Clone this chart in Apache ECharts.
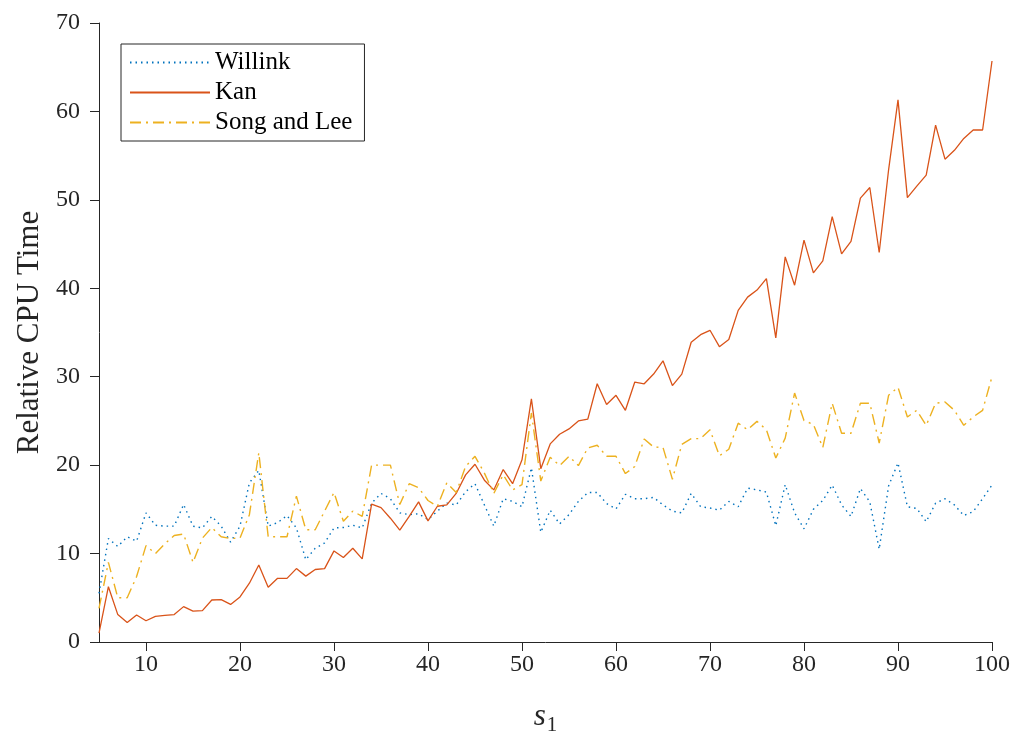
<!DOCTYPE html>
<html>
<head>
<meta charset="utf-8">
<script src="https://cdn.jsdelivr.net/npm/echarts@6/dist/echarts.min.js"></script>
<style>
html,body{margin:0;padding:0;background:#fff;}
#chart{width:1017px;height:733px;}
</style>
</head>
<body>
<div id="chart"></div>
<script>
const s1 = [];
for (let s = 5; s <= 100; s++) s1.push(s);

const xTicks = [10, 20, 30, 40, 50, 60, 70, 80, 90, 100];

const willink = [
  5.5, 11.7, 10.8, 11.9, 11.4, 14.6, 13.2, 13.1, 13.1, 15.55,
  13.1, 12.9, 14.2, 13.1, 11.3, 13.1, 18.0, 19.4, 13.1, 13.5,
  14.3, 12.9, 9.3, 10.6, 11.2, 12.9, 12.95, 13.2, 12.9, 15.7,
  16.8, 16.2, 14.6, 14.4, 14.5, 13.85, 14.8, 15.7, 15.5, 17.0,
  17.9, 15.5, 13.1, 16.2, 15.9, 15.3, 19.7, 12.4, 14.9, 13.35,
  14.4, 15.9, 16.9, 16.9, 15.65, 15.05, 16.7, 16.2, 16.2, 16.35,
  15.5, 14.8, 14.6, 16.8, 15.3, 15.15, 14.9, 15.9, 15.3, 17.4,
  17.2, 16.95, 13.15, 17.8, 14.6, 12.8, 15.0, 16.0, 17.75, 15.5,
  14.2, 17.35, 15.85, 10.5, 17.65, 20.25, 15.3, 15.1, 13.6, 15.7,
  16.2, 15.5, 14.3, 14.75, 16.2, 17.75
];

const kan = [
  1.0, 6.25, 3.1, 2.2, 3.05, 2.4, 2.9, 3.0, 3.1, 4.0,
  3.5, 3.55, 4.75, 4.8, 4.25, 5.1, 6.65, 8.7, 6.2, 7.2,
  7.2, 8.3, 7.45, 8.2, 8.3, 10.3, 9.55, 10.6, 9.4, 15.6,
  15.2, 14.0, 12.65, 14.2, 15.85, 13.7, 15.35, 15.5, 16.8, 18.9,
  20.1, 18.3, 17.2, 19.5, 17.9, 20.6, 27.5, 19.6, 22.4, 23.5,
  24.1, 25.0, 25.2, 29.2, 26.85, 27.9, 26.2, 29.4, 29.2, 30.3,
  31.8, 29.0, 30.3, 33.9, 34.75, 35.25, 33.4, 34.2, 37.5, 39.0,
  39.8, 41.1, 34.4, 43.55, 40.35, 45.45, 41.75, 43.1, 48.1, 43.9,
  45.3, 50.2, 51.4, 44.05, 53.4, 61.3, 50.25, 51.55, 52.8, 58.45,
  54.6, 55.6, 56.95, 57.9, 57.9, 65.7
];

const songLee = [
  3.8, 9.0, 5.0, 5.0, 7.4, 10.9, 10.0, 11.1, 12.05, 12.2,
  9.0, 11.75, 12.95, 11.9, 11.7, 11.75, 14.4, 21.4, 11.9, 11.9,
  11.9, 16.5, 12.7, 12.7, 14.8, 16.9, 13.65, 14.8, 14.2, 20.0,
  20.0, 20.0, 15.55, 17.9, 17.45, 16.0, 15.35, 18.0, 16.9, 19.85,
  21.0, 19.1, 16.8, 18.9, 17.2, 17.8, 25.9, 18.2, 20.9, 19.95,
  21.0, 19.95, 21.95, 22.25, 21.0, 21.0, 19.05, 19.85, 22.95, 22.05,
  22.0, 18.4, 22.35, 23.0, 23.0, 24.0, 21.05, 21.8, 24.75, 24.0,
  24.95, 24.0, 20.8, 23.05, 28.15, 25.05, 24.6, 22.0, 27.0, 23.6,
  23.6, 27.0, 27.0, 22.5, 27.9, 28.8, 25.45, 26.2, 24.5, 27.0,
  27.15, 26.2, 24.5, 25.45, 26.2, 30.0
];

const seriesNames = ['Willink', 'Kan', 'Song and Lee'];

const FONT = '"Liberation Serif", "DejaVu Serif", serif';
const AXC = '#262626';

function pairs(arr) { return s1.map((x, i) => [x, arr[i]]); }

const chart = echarts.init(document.getElementById('chart'), null, {renderer: 'canvas'});
chart.setOption({
  backgroundColor: '#ffffff',
  animation: false,
  grid: {left: 99, right: 25, top: 23, bottom: 91, containLabel: false, outerBoundsMode: 'none'},
  legend: {
    orient: 'vertical',
    left: 121, top: 44,
    data: seriesNames,
    itemWidth: 80, itemHeight: 14, itemGap: 5,
    padding: [6, 12, 6, 8],
    borderColor: AXC, borderWidth: 1, backgroundColor: '#fff',
    borderRadius: 0,
    itemStyle: {opacity: 0, borderWidth: 0},
    textStyle: {fontFamily: FONT, fontSize: 25, color: '#000', lineHeight: 25}
  },
  xAxis: {
    type: 'value', min: 5, max: 100,
    name: '{s|s}{sub|1}', nameLocation: 'middle', nameGap: 59,
    nameTextStyle: {
      color: AXC, fontFamily: FONT,
      rich: {
        s: {fontFamily: FONT, fontStyle: 'italic', fontSize: 31, lineHeight: 31, color: AXC, verticalAlign: 'top'},
        sub: {fontFamily: FONT, fontSize: 21, lineHeight: 21, color: AXC, verticalAlign: 'top', padding: [14, 0, 0, 1]}
      }
    },
    axisLine: {show: true, onZero: false, lineStyle: {color: AXC, width: 1}},
    axisTick: {show: true, inside: false, length: 9, customValues: xTicks, lineStyle: {color: AXC}},
    axisLabel: {customValues: xTicks, margin: 11, fontFamily: FONT, fontSize: 24, color: AXC},
    splitLine: {show: false}
  },
  yAxis: {
    type: 'value', min: 0, max: 70, interval: 10,
    name: 'Relative CPU Time', nameLocation: 'middle', nameGap: 48,
    nameTextStyle: {fontFamily: FONT, fontSize: 31, color: AXC},
    axisLine: {show: true, lineStyle: {color: AXC, width: 1}},
    axisTick: {show: true, inside: false, length: 9, lineStyle: {color: AXC}},
    axisLabel: {margin: 19, fontFamily: FONT, fontSize: 24, color: AXC},
    splitLine: {show: false}
  },
  series: [
    {
      name: 'Willink', type: 'line', data: pairs(willink), symbol: 'none',
      itemStyle: {color: '#0072BD'},
      lineStyle: {color: '#0072BD', width: 1.4, type: [1.5, 4]}
    },
    {
      name: 'Kan', type: 'line', data: pairs(kan), symbol: 'none',
      itemStyle: {color: '#D95319'},
      lineStyle: {color: '#D95319', width: 1.3, type: 'solid'}
    },
    {
      name: 'Song and Lee', type: 'line', data: pairs(songLee), symbol: 'none',
      itemStyle: {color: '#EDB120'},
      lineStyle: {color: '#EDB120', width: 1.4, type: [11, 5, 2, 5]}
    }
  ]
});
</script>
</body>
</html>
